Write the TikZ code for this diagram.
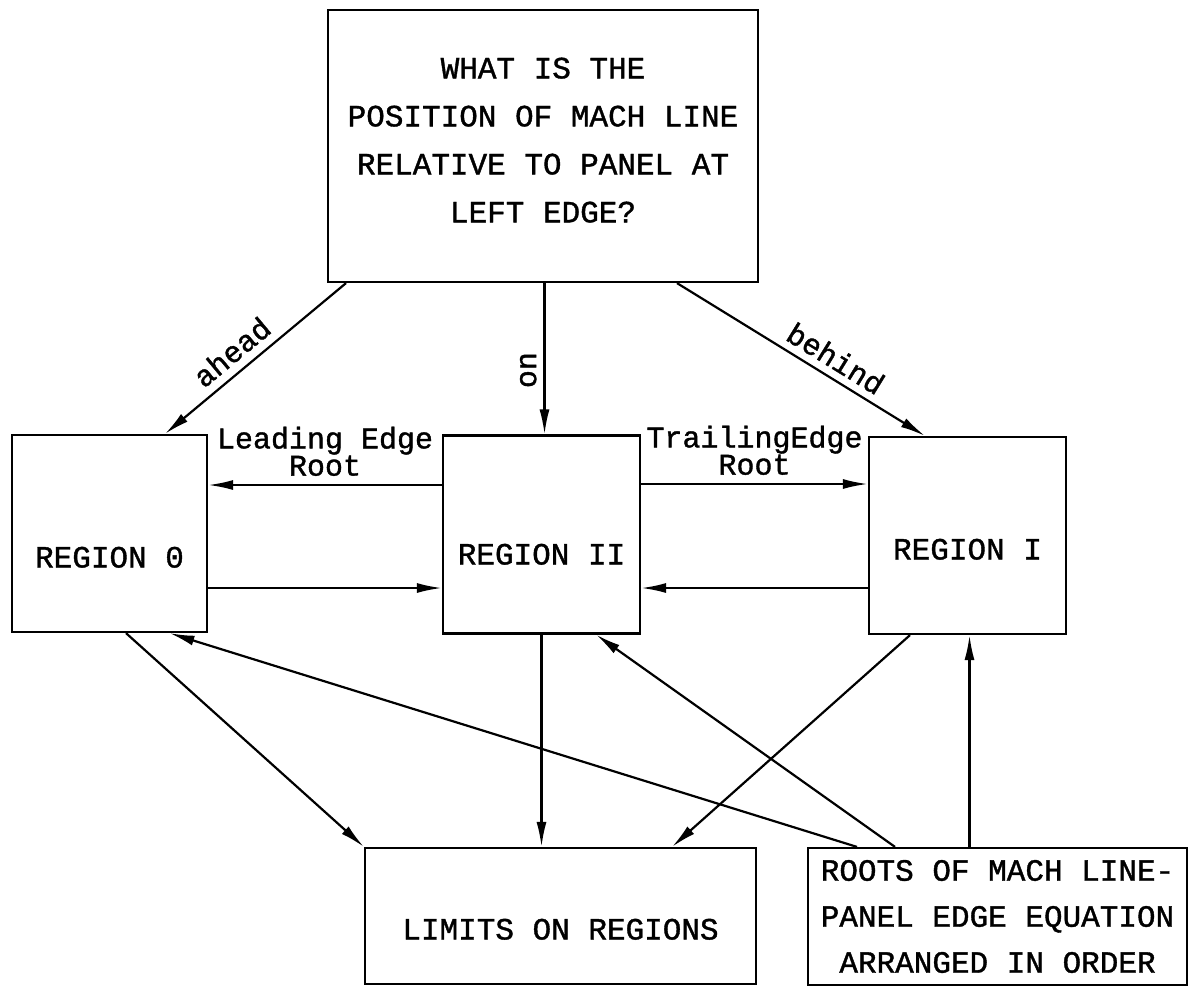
\documentclass[tikz,border=0pt]{standalone}
\usepackage{fontspec}
\usetikzlibrary{arrows.meta}
% typewriter face, slightly emboldened
\newfontface\diagtype{Liberation Mono}[FakeBold=1.2]
\newcommand\diagboxfont{\diagtype\fontsize{31}{48}\selectfont}
\newcommand\diaglblfont{\diagtype\fontsize{30}{24}\selectfont}
\begin{document}
\begin{tikzpicture}[x=1pt,y=-1pt,
  box/.style={draw, line width=2.2pt, inner sep=0pt, font=\diagboxfont, align=center},
  regionbox/.style={box, minimum width=197pt, minimum height=197pt, text depth=0pt},
  arr/.style={line width=2.2pt, -{Latex[length=25pt,width=10pt]}},
  lbl/.style={font=\diaglblfont, inner sep=2pt, align=center},
]
\useasboundingbox (0,0) rectangle (1190,986);

% question box
\node[box, minimum width=430pt, minimum height=272pt, text depth=12pt] (top) at (543,146)
  {WHAT IS THE\\POSITION OF MACH LINE\\RELATIVE TO PANEL AT\\LEFT EDGE?};

% the three regions
\node[regionbox, minimum width=195pt, text height=68pt] (r0) at (109.5,533.5) {REGION 0};
\node[regionbox, minimum height=198pt, text height=60pt] (r2) at (541.5,534.5) {REGION II};
\node[regionbox, text height=48pt] (r1) at (967.5,535.5) {REGION I};

% bottom boxes
\node[box, minimum width=391pt, minimum height=136pt, text height=47pt, text depth=0pt] (lim) at (560.5,916) {LIMITS ON REGIONS};
\node[box, minimum width=379pt, minimum height=137pt, font=\diagtype\fontsize{31}{46}\selectfont] (roots) at (997.5,916.5)
  {ROOTS OF MACH LINE-\\PANEL EDGE EQUATION\\ARRANGED IN ORDER};

% question -> regions
\draw[arr] ([xshift=-197pt]top.south) -- node[lbl, pos=0.56, sloped, above=6pt] (lahead) {ahead} ([xshift=55.5pt]r0.north);
\draw[arr] ([xshift=3pt]r2.north |- top.south) -- node[lbl, pos=0.575, rotate=90, above=5pt] (lon) {on} ([xshift=3pt]r2.north);
\draw[arr] ([xshift=134pt]top.south) -- node[lbl, pos=0.6, sloped, above=5pt] (lbehind) {behind} ([xshift=-42.5pt]r1.north);

% links between regions
\draw[arr] ([yshift=49.5pt]r2.west) -- node[lbl, midway, above=6pt] (llead) {Leading Edge\\Root} ([yshift=49.5pt]r2.west -| r0.east);
\draw[arr] ([yshift=-53.5pt]r2.west -| r0.east) -- ([yshift=-53.5pt]r2.west);
\draw[arr] ([yshift=50.5pt]r2.east) -- node[lbl, midway, above=6pt] (ltrail) {TrailingEdge\\Root} ([yshift=50.5pt]r2.east -| r1.west);
\draw[arr] ([yshift=-53.5pt]r2.east -| r1.west) -- ([yshift=-53.5pt]r2.east);

% regions -> limits
\draw[arr] ([xshift=16.5pt]r0.south) -- (lim.north west);
\draw[arr] (r2.south) -- (r2.south |- lim.north);
\draw[arr] ([xshift=-57.5pt]r1.south) -- ([xshift=111.5pt]lim.north);

% roots -> regions
\draw[arr] ([xshift=-140.5pt]roots.north) -- ([xshift=60pt]r0.south);
\draw[arr] ([xshift=-102.5pt]roots.north) -- ([xshift=54.5pt]r2.south);
\draw[arr] ([xshift=2pt]r1.south |- roots.north) -- ([xshift=2pt]r1.south);
\end{tikzpicture}
\end{document}
